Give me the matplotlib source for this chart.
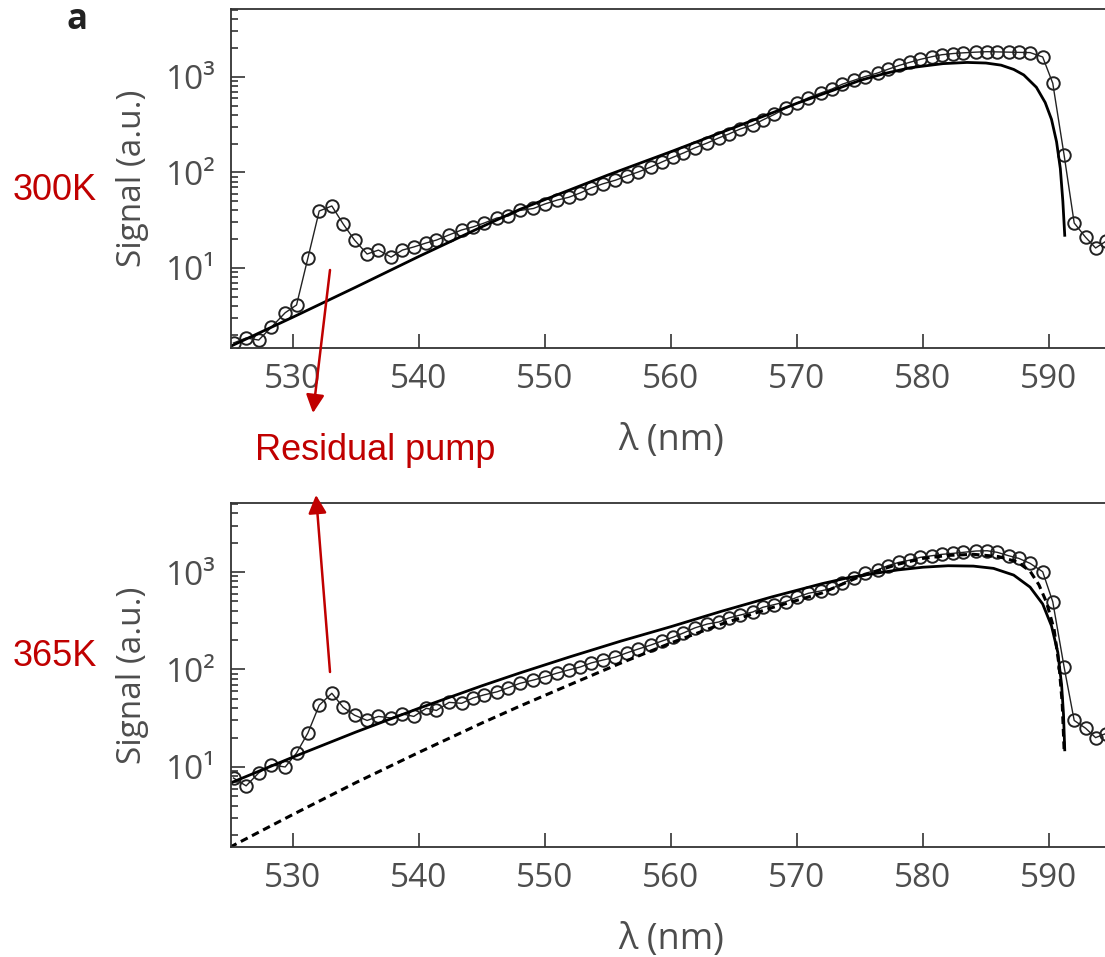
import matplotlib
matplotlib.use('Agg')
import matplotlib.pyplot as plt
from matplotlib.ticker import FixedLocator, LogLocator, NullLocator, FuncFormatter, NullFormatter

plt.rcParams['font.family'] = ['Open Sans', 'DejaVu Sans']

# ── data ──────────────────────────────────────────────────────────────────────
wl = [525.3, 526.3, 527.3, 528.3, 529.4, 530.3, 531.2, 532.1, 533.1, 534.0,
      534.9, 535.9, 536.8, 537.8, 538.7, 539.6, 540.6, 541.4, 542.4, 543.4,
      544.3, 545.2, 546.2, 547.1, 548.0, 549.1, 550.0, 551.0, 551.9, 552.8,
      553.7, 554.6, 555.6, 556.5, 557.4, 558.4, 559.3, 560.2, 561.0, 561.9,
      562.9, 563.8, 564.6, 565.5, 566.5, 567.3, 568.2, 569.1, 570.0, 570.9,
      571.9, 572.8, 573.6, 574.5, 575.4, 576.4, 577.2, 578.1, 579.0, 579.8,
      580.7, 581.5, 582.4, 583.2, 584.2, 585.1, 585.9, 586.8, 587.6, 588.5,
      589.5, 590.3, 591.2, 592.0, 592.9, 593.7, 594.5]

sig_300 = [1.64, 1.85, 1.76, 2.4, 3.4, 4.1, 12.7, 39.5, 44.6, 28.9,
           19.6, 14.0, 15.4, 13.0, 15.4, 16.6, 18.3, 19.6, 22.2, 25.0,
           26.9, 29.6, 33.4, 35.0, 40.0, 42.0, 46.8, 51.5, 55.0, 61.0,
           69.0, 76.0, 83.0, 92.0, 101, 114, 129, 145, 160, 181,
           204, 230, 253, 285, 314, 355, 405, 470, 533, 605,
           680, 750, 840, 920, 1010, 1100, 1200, 1320, 1430, 1530,
           1630, 1710, 1760, 1790, 1820, 1840, 1830, 1820, 1810, 1800,
           1620, 860, 152, 29.6, 21.0, 16.2, 19.0]

sig_365 = [7.7, 6.4, 8.7, 10.5, 10.0, 13.9, 22.3, 43.0, 57.0, 41.0,
           34.0, 30.0, 33.0, 31.8, 35.0, 33.0, 40.0, 38.0, 46.0, 45.0,
           51.0, 55.0, 59.0, 65.0, 72.0, 78.0, 84.0, 92.0, 99.0, 106,
           117, 125, 134, 148, 162, 178, 196, 215, 237, 267,
           293, 307, 338, 362, 389, 435, 463, 495, 550, 605,
           640, 681, 766, 861, 970, 1049, 1161, 1257, 1327, 1415,
           1469, 1518, 1555, 1592, 1642, 1653, 1592, 1469, 1381, 1227,
           1007, 495, 106, 30.0, 25.0, 20.0, 22.0]

fit300_wl = [525.0, 530.0, 535.0, 540.0, 545.0, 548.0, 550.0, 555.0, 560.0, 565.0,
             570.0, 572.8, 575.0, 577.0, 579.0, 581.6, 583.5, 585.0, 586.2, 587.2,
             588.0, 589.0, 589.7, 590.2, 590.6, 590.9, 591.1, 591.25]
fit300 = [1.5, 3.05, 6.3, 13.2, 27, 41, 52, 94, 165, 295,
          530, 720, 920, 1090, 1250, 1380, 1420, 1400, 1330, 1200,
          1050, 780, 540, 360, 210, 110, 50, 22]

fit365_wl = [525.0, 530.0, 535.0, 540.0, 545.0, 548.0, 552.0, 556.0, 560.0, 564.0,
             568.0, 572.0, 574.0, 576.0, 578.0, 580.0, 582.0, 584.0, 585.6, 587.2,
             588.5, 589.5, 590.2, 590.7, 591.0, 591.15, 591.25]
fit365 = [6.8, 12.6, 22.8, 40, 68, 92, 135, 195, 275, 395,
          555, 760, 870, 960, 1050, 1120, 1160, 1150, 1090, 930,
          700, 470, 280, 150, 70, 35, 15]

dash365_wl = [525.0, 530.0, 535.0, 540.0, 545.0, 548.0, 552.0, 556.0, 560.0, 564.0,
              568.0, 572.0, 575.0, 578.0, 580.0, 582.0, 584.0, 586.0, 587.5, 588.5,
              589.2, 589.8, 590.4, 590.8, 591.05, 591.2]
dash365 = [1.5, 3.25, 6.9, 14.1, 28.2, 42, 70, 116, 187, 292,
           430, 610, 900, 1200, 1380, 1480, 1520, 1440, 1270, 1020,
           740, 490, 260, 110, 45, 15]

xticks = [530, 540, 550, 560, 570, 580, 590]
yticks = [10, 100, 1000]
ytick_labels = ['10\u00b9', '10\u00b2', '10\u00b3']

W, H = 1105, 957
RED = '#c00000'
GREY = '#4d4d4d'

fig = plt.figure(figsize=(W / 100, H / 100), dpi=100)
ax_top = fig.add_axes([231 / W, 1 - 348 / H, 881 / W, 339 / H])
ax_bot = fig.add_axes([231 / W, 1 - 847 / H, 881 / W, 344 / H])

def style(ax, ylim):
    ax.set_yscale('log')
    ax.set_xlim(525.1, 595.0)
    ax.set_ylim(*ylim)
    ax.xaxis.set_major_locator(FixedLocator(xticks))
    ax.xaxis.set_minor_locator(NullLocator())
    ax.yaxis.set_major_locator(FixedLocator(yticks))
    ax.yaxis.set_major_formatter(FuncFormatter(
        lambda v, p: ytick_labels[yticks.index(int(round(v)))] if int(round(v)) in yticks else ''))
    ax.yaxis.set_minor_locator(LogLocator(base=10, subs=range(2, 10)))
    ax.yaxis.set_minor_formatter(NullFormatter())
    ax.tick_params(which='both', direction='in', color='#333333', width=1.2,
                   labelsize=24, labelcolor=GREY, top=False, right=False)
    ax.tick_params(which='major', length=10, pad=11)
    ax.tick_params(which='minor', length=5)
    for s in ax.spines.values():
        s.set_color('#333333')
        s.set_linewidth(1.3)
    ax.set_xlabel('\u03bb (nm)', fontsize=26, color=GREY, labelpad=19)
    ax.set_ylabel('Signal (a.u.)', fontsize=24, color=GREY, labelpad=12)

circ = dict(marker='o', ms=9, mfc='none', mec='#222222', mew=1.4,
            color='#222222', lw=1.0)

ax_top.plot(wl, sig_300, **circ)
ax_top.plot(fit300_wl, fit300, color='black', lw=2.0)
style(ax_top, (1.453, 5150))

ax_bot.plot(wl, sig_365, **circ)
ax_bot.plot(fit365_wl, fit365, color='black', lw=2.0)
ax_bot.plot(dash365_wl, dash365, color='black', lw=2.2, ls=(0, (2.5, 1.6)))
style(ax_bot, (1.51, 5106))

# ── annotations (figure pixel coordinates, y measured from the top) ──────────
def px(x, y):
    return (x, H - y)

fig.text(77 / W, 1 - 20 / H, 'a', fontsize=25, fontweight='bold',
         ha='center', va='center', color='#222222')
fig.text(13 / W, 1 - 191 / H, '300K', fontsize=26, color=RED,
         family='Liberation Sans', ha='left', va='center')
fig.text(13 / W, 1 - 657 / H, '365K', fontsize=26, color=RED,
         family='Liberation Sans', ha='left', va='center')
fig.text(255 / W, 1 - 451 / H, 'Residual pump', fontsize=26, color=RED,
         family='Liberation Sans', ha='left', va='center')

arrow = dict(arrowstyle='-|>,head_length=1.0,head_width=0.5', color=RED,
             lw=1.8, mutation_scale=11, shrinkA=0, shrinkB=0)
ax_top.annotate('', xy=px(313, 413), xytext=px(330, 270),
                xycoords='figure pixels', textcoords='figure pixels',
                arrowprops=arrow, annotation_clip=False)
ax_bot.annotate('', xy=px(316, 495), xytext=px(330, 672),
                xycoords='figure pixels', textcoords='figure pixels',
                arrowprops=arrow, annotation_clip=False)

fig.savefig('out.png', dpi=100)
